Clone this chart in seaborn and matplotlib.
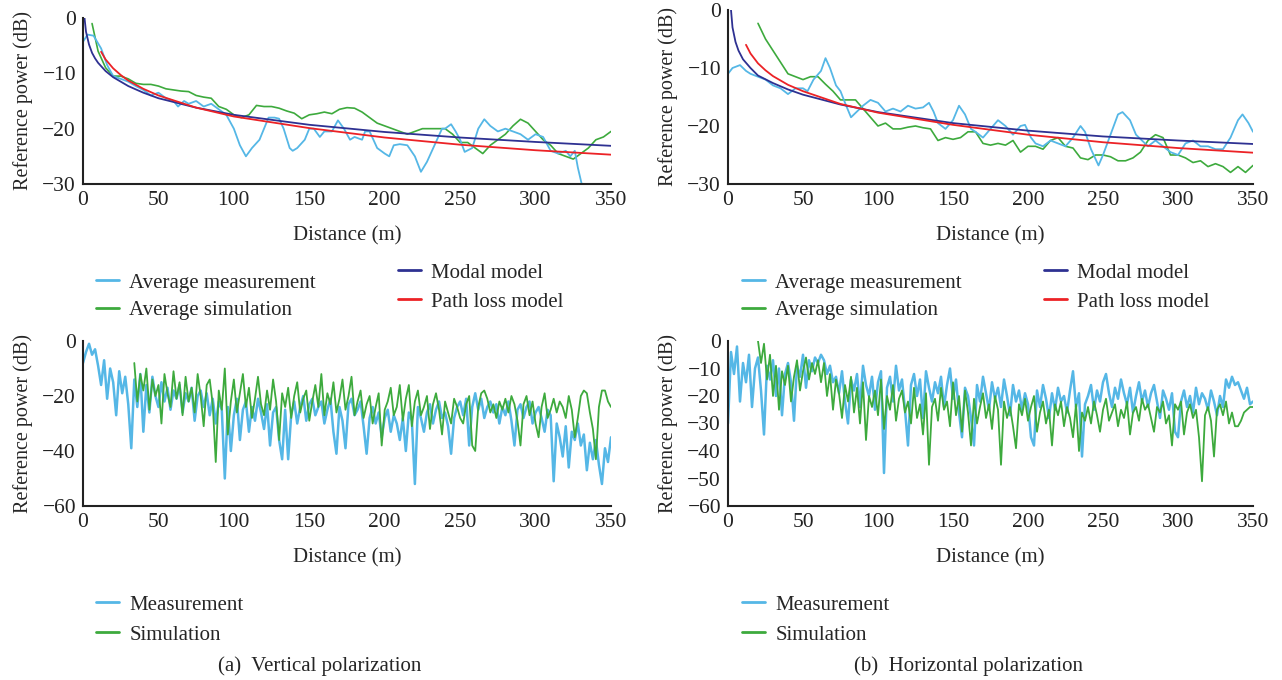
import matplotlib

matplotlib.use("Agg")
import matplotlib.pyplot as plt
import numpy as np
import pandas as pd
import seaborn as sns
from matplotlib.lines import Line2D

MEAS_COLOR = "#55B7E6"
SIM_COLOR = "#3DAA3D"
MODAL_COLOR = "#2E3192"
PATH_COLOR = "#EC2226"

# ---- (a) vertical polarization, averaged curves ----
va_meas_x = [0, 3, 7, 12, 16, 20, 25, 30, 35, 40, 45, 50, 55, 60, 63, 67, 70, 75, 80, 85,
             90, 95, 100, 104, 108, 112, 117, 120, 123, 127, 130, 133, 137, 139, 142, 147,
             150, 153, 157, 160, 165, 169, 173, 177, 180, 185, 187, 190, 195, 200, 203, 206,
             210, 215, 220, 224, 228, 233, 238, 240, 244, 247, 250, 253, 258, 262, 266, 270,
             275, 280, 285, 290, 295, 300, 305, 310, 315, 320, 323, 326, 328, 331]
va_meas_y = [-4.3, -3, -3.2, -5.5, -8.5, -10.5, -11, -11.5, -12.3, -13, -14, -13.5, -14.5, -15,
             -16, -15, -15.5, -15, -16, -15.5, -16.5, -17.5, -20, -23, -25, -23.5, -22, -20,
             -18, -18, -18.2, -20, -23.5, -24, -23.5, -22, -20, -20, -21.5, -20.5, -20.5, -18.5,
             -20, -22, -21.5, -22, -20.5, -20.5, -23.5, -24.5, -25, -23, -22.8, -23, -25, -27.8,
             -26, -23, -20, -20, -19.2, -20.5, -22, -24.2, -23.5, -20, -18.3, -19.5, -20.5, -20,
             -20.5, -21, -22, -21, -21.5, -24, -24.5, -24, -25, -24, -27, -30.5]
va_sim_x = [6] + list(range(10, 351, 5))
va_sim_y = [-1, -6, -9, -10.5, -10.5, -11, -11.8, -12, -12, -12.3, -12.8, -13, -13.2, -13.3,
            -14, -14.3, -14.5, -16, -16.5, -17.5, -18, -17.5, -15.8, -16, -16, -16.3, -16.8,
            -17.2, -18.2, -17.5, -17.3, -17, -17.3, -16.5, -16.2, -16.3, -17, -18, -19, -19.5,
            -20, -20.5, -21, -20.5, -20, -20, -20, -20, -21, -22.5, -22.5, -23.5, -24.5, -23,
            -22, -21, -19.5, -18.3, -19, -20.5, -22, -23, -24.5, -25, -25.5, -24.5, -23.5, -22,
            -21.5, -20.5]
va_modal_x = [1, 2, 4, 6, 8, 10, 15, 20, 30, 40, 50, 75, 100, 150, 200, 250, 300, 350]
va_modal_y = [0, -2.5, -4.8, -6.3, -7.3, -8.1, -9.6, -10.7, -12.3, -13.5, -14.5, -16.2, -17.5,
              -19.3, -20.6, -21.6, -22.4, -23.1]
va_path_x = [12, 15, 20, 25, 30, 40, 50, 75, 100, 150, 200, 250, 300, 350]
va_path_y = [-6.1, -7.5, -9.1, -10.3, -11.3, -12.8, -14, -16.2, -17.8, -19.9, -21.6, -22.9,
             -23.9, -24.7]

# ---- (b) horizontal polarization, averaged curves ----
hb_meas_x = [0, 3, 8, 12, 15, 20, 25, 30, 35, 40, 45, 50, 53, 57, 62, 65, 68, 72, 75, 78, 82,
             86, 90, 95, 100, 105, 110, 115, 120, 125, 130, 134, 137, 140, 145, 150, 154, 158,
             162, 165, 170, 175, 180, 185, 190, 195, 198, 202, 205, 210, 215, 220, 225, 230,
             235, 238, 242, 247, 250, 255, 260, 263, 268, 272, 276, 280, 285, 290, 295, 300,
             305, 310, 315, 320, 325, 330, 335, 340, 343, 347, 350]
hb_meas_y = [-11, -10, -9.5, -10.5, -11, -11.5, -12, -13, -13.5, -14.5, -13.5, -13.5, -14, -12,
             -10.5, -8.3, -10, -13, -14, -16, -18.5, -17.5, -16.5, -15.5, -16, -17.5, -17,
             -17.5, -16.5, -17, -16.8, -16, -17.5, -19.5, -20.5, -19, -16.5, -18, -20.5, -21,
             -22, -20.5, -19, -20, -21.5, -20, -19.8, -22, -23, -23.5, -22.5, -23, -23.5, -22,
             -20, -21, -24, -26.8, -25, -21.5, -18, -17.6, -19, -21.5, -22.5, -23.5, -22.5,
             -23.5, -24.5, -25, -23, -22.5, -23.5, -23.5, -24, -24, -22, -19, -18, -19.5, -21]
hb_sim_x = list(range(20, 351, 5))
hb_sim_y = [-2.3, -5, -7, -9, -11, -11.5, -12, -11.5, -11.5, -12.8, -14, -15.5, -15.5, -15.5,
            -17, -18.5, -20, -19.5, -20.5, -20.5, -20.2, -20, -20.3, -20.5, -22.5, -22, -22.3,
            -22, -21, -21, -23, -23.3, -23, -23.3, -22.5, -24.5, -23.5, -23.5, -24, -22.5, -22,
            -23.5, -23.8, -25.5, -25.8, -25, -25, -25.3, -26, -26, -25.5, -24.5, -22.5, -21.5,
            -22, -25, -25, -25.5, -26.3, -26, -27, -26.5, -27, -28, -27, -28, -26.8]
hb_modal_x = [2, 3, 5, 7, 10, 15, 20, 30, 40, 50, 75, 100, 150, 200, 250, 300, 350]
hb_modal_y = [0, -3, -5.5, -7, -8.5, -10, -11.3, -12.6, -13.7, -14.6, -16.3, -17.6, -19.5,
              -20.8, -21.8, -22.5, -23.1]
hb_path_x = [12, 15, 20, 25, 30, 40, 50, 75, 100, 150, 200, 250, 300, 350]
hb_path_y = [-6, -7.5, -9.2, -10.4, -11.4, -12.9, -14, -16.2, -17.7, -19.8, -21.5, -22.8,
             -23.8, -24.6]

# ---- raw (unaveraged) curves, sampled every 2 m ----
vr_meas_x = list(range(0, 351, 2))
vr_meas_y = [
    -8, -4, -1, -5, -3, -9, -16, -7, -21, -10,
    -15, -27, -11, -19, -13, -23, -39, -14, -24, -12,
    -33, -16, -26, -13, -20, -24, -15, -22, -17, -25,
    -18, -21, -16, -26, -19, -22, -17, -29, -20, -18,
    -24, -19, -27, -21, -30, -22, -25, -50, -24, -40,
    -27, -21, -36, -25, -22, -33, -24, -29, -21, -26,
    -32, -23, -38, -26, -24, -36, -43, -25, -43, -27,
    -22, -30, -24, -20, -29, -23, -21, -27, -24, -22,
    -30, -25, -21, -33, -41, -24, -29, -39, -23, -21,
    -27, -25, -22, -31, -41, -28, -24, -30, -26, -35,
    -28, -25, -33, -27, -30, -36, -28, -40, -26, -29,
    -52, -24, -28, -33, -26, -23, -30, -25, -22, -28,
    -26, -31, -41, -28, -24, -22, -27, -21, -38, -24,
    -19, -25, -21, -28, -24, -22, -26, -23, -30, -24,
    -27, -22, -29, -38, -25, -23, -28, -24, -22, -30,
    -26, -24, -28, -33, -25, -27, -51, -30, -35, -42,
    -31, -46, -33, -36, -30, -38, -34, -47, -37, -43,
    -36, -45, -52, -39, -44, -35,
]
vr_sim_x = list(range(34, 351, 2))
vr_sim_y = [
    -8, -22, -12, -18, -10, -25, -14, -20, -16, -30,
    -12, -19, -24, -11, -21, -15, -27, -13, -22, -17,
    -26, -12, -20, -31, -16, -14, -23, -44, -18, -25,
    -10, -34, -22, -14, -26, -19, -12, -24, -17, -28,
    -21, -13, -23, -27, -18, -25, -14, -22, -36, -19,
    -24, -17, -28, -20, -15, -26, -21, -18, -29, -22,
    -16, -24, -12, -27, -19, -23, -15, -26, -21, -14,
    -25, -20, -13, -27, -22, -18, -28, -23, -20, -30,
    -24, -19, -38, -25, -22, -17, -27, -24, -16, -29,
    -21, -16, -31, -22, -18, -27, -24, -20, -32, -23,
    -19, -25, -34, -22, -26, -30, -21, -24, -28, -30,
    -23, -20, -38, -40, -24, -19, -18, -21, -26, -23,
    -28, -22, -25, -21, -26, -20, -23, -29, -38, -23,
    -20, -27, -22, -30, -35, -24, -19, -28, -25, -21,
    -26, -22, -24, -28, -20, -25, -35, -28, -20, -18,
    -19, -26, -32, -43, -24, -18, -18, -22, -24,
]
hr_meas_x = list(range(0, 351, 2))
hr_meas_y = [
    -30, -4, -12, -2, -22, -8, -15, -5, -24, -10,
    -6, -18, -34, -9, -14, -7, -20, -10, -27, -12,
    -8, -15, -29, -9, -13, -5, -17, -7, -11, -6,
    -8, -5, -7, -12, -9, -15, -13, -19, -11, -22,
    -30, -14, -18, -12, -24, -9, -16, -20, -13, -25,
    -15, -11, -48, -17, -13, -22, -9, -18, -14, -25,
    -38, -16, -12, -20, -14, -28, -11, -17, -22, -15,
    -19, -13, -24, -16, -10, -21, -14, -26, -35, -17,
    -20, -28, -38, -16, -22, -13, -19, -25, -15, -21,
    -17, -24, -14, -20, -27, -16, -22, -18, -25, -19,
    -23, -35, -38, -18, -24, -16, -21, -28, -19, -25,
    -17, -22, -20, -26, -18, -11, -24, -19, -42, -23,
    -20, -16, -25, -18, -22, -15, -12, -19, -24, -17,
    -21, -14, -19, -23, -17, -26, -20, -15, -22, -18,
    -24, -19, -16, -22, -28, -18, -21, -25, -19, -33,
    -35, -22, -18, -24, -20, -26, -17, -23, -19, -21,
    -25, -18, -22, -27, -20, -24, -14, -17, -13, -16,
    -15, -18, -21, -17, -23, -22,
]
hr_sim_x = list(range(20, 351, 2))
hr_sim_y = [
    0, -8, -1, -14, -5, -20, -9, -25, -11, -16,
    -9, -22, -13, -7, -18, -11, -6, -14, -8, -12,
    -7, -15, -8, -20, -12, -25, -14, -19, -28, -16,
    -22, -13, -26, -17, -30, -15, -36, -20, -24, -18,
    -27, -14, -32, -20, -25, -16, -29, -21, -18, -26,
    -22, -30, -17, -28, -23, -34, -19, -45, -24, -21,
    -29, -17, -25, -22, -31, -15, -27, -20, -33, -18,
    -26, -38, -21, -30, -24, -19, -28, -23, -32, -20,
    -25, -45, -22, -28, -24, -31, -39, -23, -27, -21,
    -29, -24, -20, -33, -26, -22, -30, -25, -38, -23,
    -27, -22, -31, -24, -28, -35, -23, -40, -26, -29,
    -24, -30, -22, -27, -33, -25, -21, -29, -26, -23,
    -31, -25, -28, -22, -34, -26, -24, -29, -21, -25,
    -23, -28, -33, -24, -26, -22, -30, -27, -38, -23,
    -25, -22, -34, -26, -23, -28, -25, -35, -51, -27,
    -24, -29, -42, -25, -23, -27, -22, -30, -26, -31,
    -31, -29, -26, -25, -24, -24,
]

W, H = 1282, 680
SERIF = ["Liberation Serif", "DejaVu Serif"]


def px_axes(fig, x0, x1, y_top, y_bot):
    return fig.add_axes([x0 / W, 1 - y_bot / H, (x1 - x0) / W, (y_bot - y_top) / H])


def line(ax, x, y, color, lw):
    df = pd.DataFrame({"x": x, "y": y})
    sns.lineplot(data=df, x="x", y="y", ax=ax, color=color, linewidth=lw,
                 sort=False, errorbar=None, estimator=None)


def style_axes(ax, ylim, yticks):
    ax.set_xlim(0, 350)
    ax.set_ylim(*ylim)
    ax.set_xticks(range(0, 351, 50))
    ax.set_yticks(yticks)
    ax.set_yticklabels([f"{t}".replace("-", "\u2212") for t in yticks])
    ax.tick_params(direction="in", length=4, width=1.2, labelsize=15.5, pad=5, colors="#222222")
    for side in ("top", "right"):
        ax.spines[side].set_visible(False)
    for side in ("left", "bottom"):
        ax.spines[side].set_linewidth(1.5)
        ax.spines[side].set_color("#222222")
    ax.margins(x=0)
    ax.set_xlabel("Distance (m)", fontsize=15, labelpad=12)
    ax.set_ylabel("Reference power (dB)", fontsize=14.5, labelpad=7)
    ax.grid(False)


def add_legend(fig, items, x, y, spacing=0.35):
    handles = [Line2D([], [], color=c, lw=2) for c, _ in items]
    labels = [t for _, t in items]
    fig.legend(handles, labels, loc="upper left", bbox_to_anchor=(x / W, 1 - y / H),
               frameon=False, fontsize=15, handlelength=1.1, handletextpad=0.5,
               labelspacing=spacing, borderaxespad=0, borderpad=0)


sns.set_theme(style="white")
plt.rcParams["font.family"] = SERIF
plt.rcParams["axes.unicode_minus"] = True

fig = plt.figure(figsize=(W / 100, H / 100), dpi=100)
fig.patch.set_facecolor("white")

ax1 = px_axes(fig, 83, 611, 18, 184)
line(ax1, va_sim_x, va_sim_y, SIM_COLOR, 1.2)
line(ax1, va_meas_x, va_meas_y, MEAS_COLOR, 1.3)
line(ax1, va_modal_x, va_modal_y, MODAL_COLOR, 1.3)
line(ax1, va_path_x, va_path_y, PATH_COLOR, 1.3)
style_axes(ax1, (-30, 0), [0, -10, -20, -30])

ax2 = px_axes(fig, 728, 1253, 10, 184)
line(ax2, hb_sim_x, hb_sim_y, SIM_COLOR, 1.2)
line(ax2, hb_meas_x, hb_meas_y, MEAS_COLOR, 1.3)
line(ax2, hb_modal_x, hb_modal_y, MODAL_COLOR, 1.3)
line(ax2, hb_path_x, hb_path_y, PATH_COLOR, 1.3)
style_axes(ax2, (-30, 0), [0, -10, -20, -30])

ax3 = px_axes(fig, 83, 611, 341, 506)
line(ax3, vr_meas_x, vr_meas_y, MEAS_COLOR, 1.8)
line(ax3, vr_sim_x, vr_sim_y, SIM_COLOR, 1.3)
style_axes(ax3, (-60, 0), [0, -20, -40, -60])

ax4 = px_axes(fig, 728, 1253, 341, 506)
line(ax4, hr_meas_x, hr_meas_y, MEAS_COLOR, 1.8)
line(ax4, hr_sim_x, hr_sim_y, SIM_COLOR, 1.3)
style_axes(ax4, (-60, 0), [0, -10, -20, -30, -40, -50, -60])

add_legend(fig, [(MEAS_COLOR, "Average measurement"), (SIM_COLOR, "Average simulation")], 96, 273, 0.4)
add_legend(fig, [(MODAL_COLOR, "Modal model"), (PATH_COLOR, "Path loss model")], 398, 263, 0.45)
add_legend(fig, [(MEAS_COLOR, "Average measurement"), (SIM_COLOR, "Average simulation")], 742, 273, 0.4)
add_legend(fig, [(MODAL_COLOR, "Modal model"), (PATH_COLOR, "Path loss model")], 1044, 263, 0.45)
add_legend(fig, [(MEAS_COLOR, "Measurement"), (SIM_COLOR, "Simulation")], 96, 595, 0.5)
add_legend(fig, [(MEAS_COLOR, "Measurement"), (SIM_COLOR, "Simulation")], 742, 595, 0.5)

fig.text(320 / W, 1 - 666 / H, "(a)  Vertical polarization", ha="center", va="center", fontsize=15)
fig.text(968 / W, 1 - 666 / H, "(b)  Horizontal polarization", ha="center", va="center", fontsize=15)

fig.savefig("out.png", dpi=100)
